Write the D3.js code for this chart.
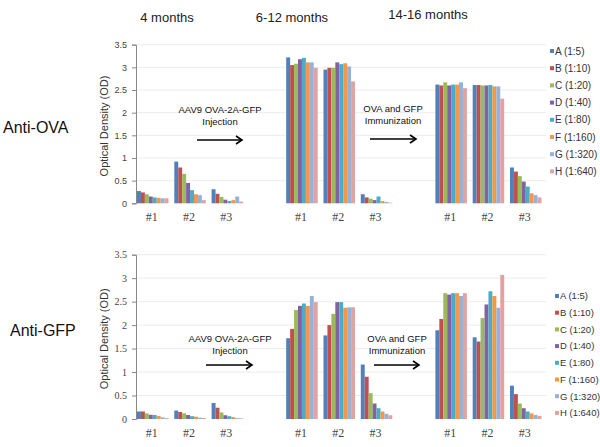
<!DOCTYPE html>
<html>
<head>
<meta charset="utf-8">
<script src="https://cdn.jsdelivr.net/npm/d3@7"></script>
<style>
	body { margin: 0; background: #fff; }
	svg { display: block; font-family: 'Liberation Sans', Arial, sans-serif; }
</style>
</head>
<body>
<svg id="chart" width="600" height="447"></svg>
<script>
const months = ['4 months', '6-12 months', '14-16 months']
const slotLabels = ['#1', '#2', '#3', '', '#1', '#2', '#3', '', '#1', '#2', '#3']
const dilutions = ['A (1:5)', 'B (1:10)', 'C (1:20)', 'D (1:40)', 'E (1:80)', 'F (1:160)', 'G (1:320)', 'H (1:640)']
const colours = ['#4f81bd', '#c0504d', '#9bbb59', '#8064a2', '#4bacc6', '#f79646', '#95b3d7', '#e3a2a2']
const yTicks = [0, 0.5, 1, 1.5, 2, 2.5, 3, 3.5]

// one row per animal, 8 dilutions each (slots 3 and 7 stay empty)
const ovaValues = [
	[0.27, 0.24, 0.2, 0.15, 0.13, 0.12, 0.11, 0.11],
	[0.92, 0.79, 0.65, 0.45, 0.29, 0.2, 0.18, 0.07],
	[0.31, 0.21, 0.14, 0.08, 0.05, 0.07, 0.15, 0.04],
	[3.22, 3.05, 3.08, 3.18, 3.21, 3.11, 3.11, 2.99],
	[2.95, 2.99, 2.99, 3.11, 3.07, 3.09, 3.02, 2.69],
	[0.2, 0.13, 0.1, 0.07, 0.15, 0.05, 0.03, 0.015],
	[2.62, 2.6, 2.67, 2.6, 2.62, 2.62, 2.67, 2.54],
	[2.61, 2.61, 2.6, 2.6, 2.61, 2.58, 2.58, 2.31],
	[0.79, 0.7, 0.6, 0.48, 0.37, 0.22, 0.18, 0.13]
]

const gfpValues = [
	[0.16, 0.16, 0.12, 0.09, 0.085, 0.065, 0.035, 0.02],
	[0.18, 0.15, 0.12, 0.085, 0.06, 0.05, 0.03, 0.02],
	[0.34, 0.24, 0.14, 0.08, 0.06, 0.04, 0.02, 0.015],
	[1.72, 1.92, 2.32, 2.41, 2.46, 2.41, 2.62, 2.49],
	[1.78, 2.0, 2.24, 2.49, 2.49, 2.37, 2.38, 2.38],
	[1.16, 0.9, 0.55, 0.33, 0.23, 0.16, 0.11, 0.08],
	[1.89, 2.13, 2.68, 2.65, 2.68, 2.68, 2.62, 2.68],
	[1.74, 1.65, 2.15, 2.44, 2.72, 2.62, 2.37, 3.07],
	[0.71, 0.53, 0.33, 0.23, 0.16, 0.12, 0.085, 0.065]
]

const svg = d3.select('#chart')

const slotOf = g => g + Math.floor(g/3)

const x = d3.scaleBand()
	.domain(d3.range(slotLabels.length))
	.range([137, 541.5])
	.paddingInner(0.155)

const xInner = d3.scaleBand()
	.domain(dilutions)
	.range([0, x.bandwidth()])

// month headers
svg.append('g')
	.selectAll('text')
	.data(months)
	.enter()
	.append('text')
	.attr('x', (d, i) => [167, 292, 428][i])
	.attr('y', (d, i) => i === 2 ? 19 : 22)
	.attr('text-anchor', 'middle')
	.style('font-size', '13px')
	.attr('fill', '#222')
	.text(d => d)

const arrow = (g, x1, x2, y) => {
	g.append('path')
		.attr('d', `M${x1},${y}H${x2}`)
		.attr('stroke', '#000')
		.attr('stroke-width', 1.6)
	g.append('path')
		.attr('d', `M${x2-6},${y-4}L${x2},${y}L${x2-6},${y+4}`)
		.attr('fill', 'none')
		.attr('stroke', '#000')
		.attr('stroke-width', 1.6)
}

const panel = ({ values, label, labelX, labelY, yRange, tickFont, tickSize, legendX, legendY, legendSize, notes }) => {

	const y = d3.scaleLinear()
		.domain([0, 3.5])
		.range(yRange)

	const g = svg.append('g')

	g.append('text')
		.attr('x', labelX)
		.attr('y', labelY)
		.style('font-size', '16px')
		.attr('fill', '#111')
		.text(label)

	g.append('text')
		.attr('transform', `translate(104, ${(yRange[0] + yRange[1])/2 + 2}) rotate(-90)`)
		.attr('text-anchor', 'middle')
		.attr('dominant-baseline', 'central')
		.style('font-size', '11px')
		.attr('fill', '#333')
		.text('Optical Density (OD)')

	g.append('g')
		.selectAll('line')
		.data(yTicks.filter(d => d > 0))
		.enter()
		.append('line')
		.attr('x1', 136)
		.attr('x2', 546)
		.attr('y1', d => y(d))
		.attr('y2', d => y(d))
		.attr('stroke', '#e4e4e4')
		.attr('stroke-width', 0.7)

	const axis = g.append('g')
		.attr('transform', 'translate(136, 0)')
		.call(d3.axisLeft(y).tickValues(yTicks).tickSize(4).tickPadding(5).tickFormat(d3.format('')))

	axis.select('.domain').attr('stroke', '#888')
	axis.selectAll('.tick line').attr('stroke', '#888')
	axis.selectAll('.tick text')
		.style('font-family', tickFont)
		.style('font-size', tickSize + 'px')
		.attr('fill', '#444')

	const groups = g.append('g')
		.selectAll('g')
		.data(values)
		.enter()
		.append('g')
		.attr('transform', (d, i) => `translate(${x(slotOf(i))}, 0)`)

	groups.selectAll('rect')
		.data(d => d.map((v, j) => ({ v, key: dilutions[j], colour: colours[j] })))
		.enter()
		.append('rect')
		.attr('x', d => xInner(d.key))
		.attr('width', xInner.bandwidth())
		.attr('y', d => y(d.v))
		.attr('height', d => y(0) - y(d.v))
		.attr('fill', d => d.colour)

	g.append('g')
		.selectAll('text')
		.data(slotLabels.map((l, i) => ({ l, i })).filter(d => d.l !== ''))
		.enter()
		.append('text')
		.attr('x', d => x(d.i) + x.bandwidth()/2 - 1)
		.attr('y', yRange[0] + 18)
		.attr('text-anchor', 'middle')
		.style('font-family', "'Liberation Serif', 'Times New Roman', serif")
		.style('font-size', '12px')
		.attr('fill', '#444')
		.text(d => d.l)

	notes.forEach(n => {
		const t = g.append('text')
			.attr('text-anchor', 'middle')
			.style('font-size', '9.5px')
			.attr('fill', '#111')
		n.lines.forEach((line, k) => {
			t.append('tspan')
				.attr('x', n.x)
				.attr('y', n.y + k*11.5)
				.text(line)
		})
		arrow(g, n.a1, n.a2, n.ay)
	})

	const legend = g.append('g')
		.selectAll('g')
		.data(dilutions)
		.enter()
		.append('g')
		.attr('transform', (d, i) => `translate(${legendX}, ${legendY + i*(legendSize === 10 ? 17.2 : 16.7)})`)

	legend.append('rect')
		.attr('x', 0)
		.attr('y', -2)
		.attr('width', 4)
		.attr('height', 4)
		.attr('fill', (d, i) => colours[i])

	legend.append('text')
		.attr('x', 5)
		.attr('dy', '0.35em')
		.style('font-size', legendSize + 'px')
		.attr('fill', '#333')
		.text(d => d)
}

panel({
	values: ovaValues,
	label: 'Anti-OVA',
	labelX: 3,
	labelY: 133,
	yRange: [203.3, 44.7],
	tickFont: "'Liberation Sans', Arial, sans-serif",
	tickSize: 9,
	legendX: 550,
	legendY: 51,
	legendSize: 10,
	notes: [
		{ lines: ['AAV9 OVA-2A-GFP', 'Injection'], x: 220, y: 113, a1: 197, a2: 242, ay: 140 },
		{ lines: ['OVA and GFP', 'Immunization'], x: 393, y: 112, a1: 370, a2: 416, ay: 139 }
	]
})

panel({
	values: gfpValues,
	label: 'Anti-GFP',
	labelX: 10,
	labelY: 336,
	yRange: [419, 254.7],
	tickFont: "'Liberation Serif', 'Times New Roman', serif",
	tickSize: 10,
	legendX: 555,
	legendY: 296,
	legendSize: 9.5,
	notes: [
		{ lines: ['AAV9 OVA-2A-GFP', 'Injection'], x: 230, y: 342, a1: 206, a2: 252, ay: 365 },
		{ lines: ['OVA and GFP', 'Immunization'], x: 397, y: 342, a1: 374, a2: 419, ay: 365 }
	]
})
</script>
</body>
</html>
